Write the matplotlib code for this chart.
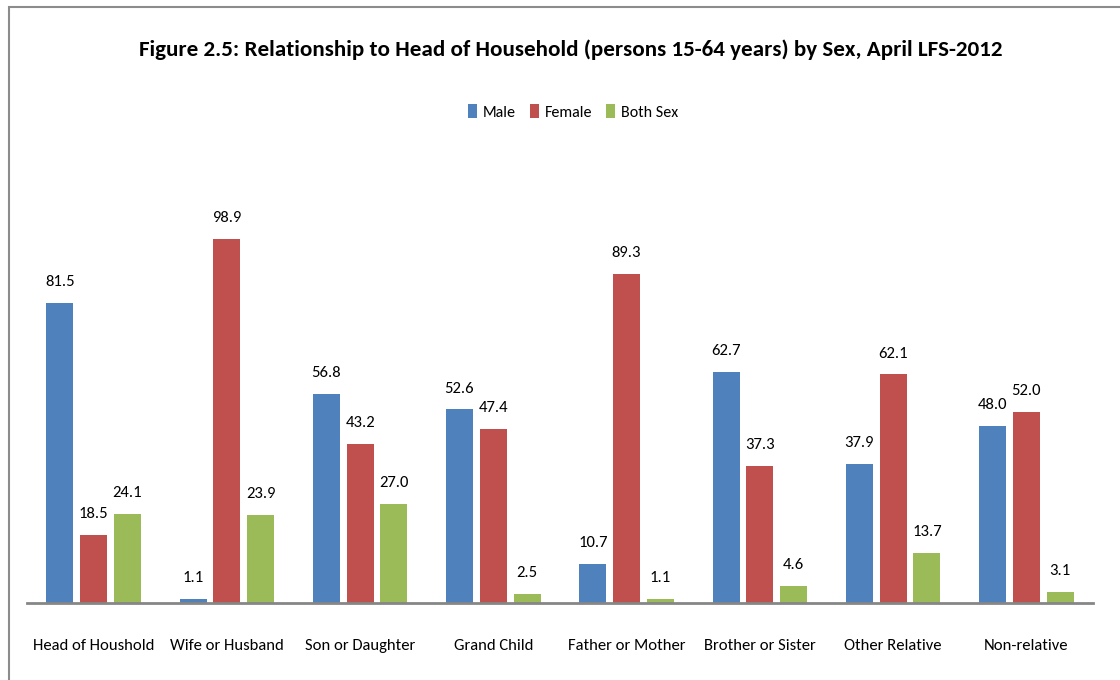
import matplotlib
matplotlib.use("Agg")
from matplotlib import pyplot as plt
from matplotlib.patches import Rectangle
import numpy as np

plt.rcParams['font.family'] = ['Carlito', 'IBM Plex Sans Condensed', 'DejaVu Sans']

categories = ["Head of Houshold", "Wife or Husband", "Son or Daughter", "Grand Child",
              "Father or Mother", "Brother or Sister", "Other Relative", "Non-relative"]
male = [81.5, 1.1, 56.8, 52.6, 10.7, 62.7, 37.9, 48.0]
female = [18.5, 98.9, 43.2, 47.4, 89.3, 37.3, 62.1, 52.0]
both = [24.1, 23.9, 27.0, 2.5, 1.1, 4.6, 13.7, 3.1]

series = [("Male", male, "#4F81BD"), ("Female", female, "#C0504D"), ("Both Sex", both, "#9BBB59")]

fig = plt.figure(figsize=(11.2, 6.8), dpi=100)
# outer chart border
fig.patches.append(Rectangle((9/1120, -0.1), 1.2, 1.1 - 7/680, transform=fig.transFigure,
                             fill=False, edgecolor="#8c8c8c", linewidth=1.5))

ax = fig.add_axes([27/1120, 77/680, (1093-27)/1120, (603-235)/680])
x = np.arange(len(categories))
w = 0.203
step = 0.254
for i, (name, vals, col) in enumerate(series):
    pos = x + (i - 1) * step
    bars = ax.bar(pos, vals, width=w, color=col, label=name)
    for b, v in zip(bars, vals):
        ax.annotate(f"{v:.1f}", (b.get_x() + b.get_width()/2, v), xytext=(0, 10),
                    textcoords="offset points", ha="center", va="bottom", fontsize=12)

ax.set_xlim(-0.5, len(categories) - 0.5)
ax.set_ylim(0, 100)
ax.set_xticks(x)
ax.set_xticklabels(categories, fontsize=12)
ax.tick_params(axis="x", length=0, pad=26)
ax.set_yticks([])
for s in ["top", "right", "left"]:
    ax.spines[s].set_visible(False)
ax.spines["bottom"].set_color("#868686")
ax.spines["bottom"].set_linewidth(2)

fig.text(571/1120, 1 - 50/680, "Figure 2.5: Relationship to Head of Household (persons 15-64 years) by Sex, April LFS-2012",
         ha="center", va="center", fontsize=16.6, fontweight="bold")
fig.legend(loc="center", bbox_to_anchor=(573/1120, 1 - 112/680), ncol=3, frameon=False, fontsize=11.5,
           handlelength=0.55, handleheight=1.0, handletextpad=0.35, columnspacing=0.9)

plt.savefig("out.png", dpi=100)
